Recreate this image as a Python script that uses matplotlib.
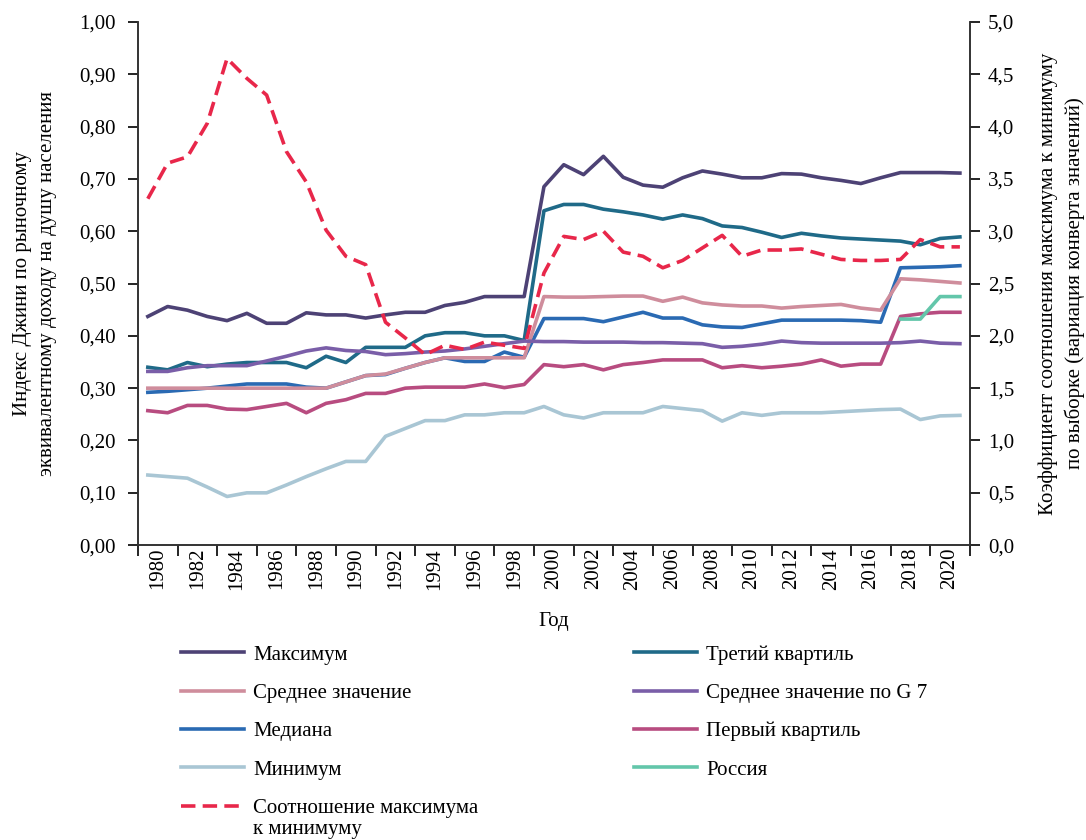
import numpy as np
import matplotlib
matplotlib.use('Agg')
import matplotlib.pyplot as plt

plt.rcParams['font.family'] = ['Liberation Serif', 'DejaVu Serif']

# Данные (индекс Джини, 1980-2021)
years = list(range(1980, 2022))
maximum = [0.437, 0.456, 0.449, 0.437, 0.429, 0.443, 0.424, 0.424, 0.444, 0.440,
           0.440, 0.434, 0.440, 0.445, 0.445, 0.458, 0.464, 0.475, 0.475, 0.475,
           0.685, 0.727, 0.708, 0.743, 0.703, 0.688, 0.684, 0.702, 0.715, 0.709,
           0.702, 0.702, 0.710, 0.709, 0.702, 0.697, 0.691, 0.702, 0.712, 0.712,
           0.712, 0.711]
q3 = [0.340, 0.335, 0.349, 0.341, 0.346, 0.349, 0.349, 0.349, 0.339, 0.361,
      0.349, 0.378, 0.378, 0.378, 0.400, 0.406, 0.406, 0.400, 0.400, 0.391,
      0.639, 0.651, 0.651, 0.642, 0.637, 0.631, 0.623, 0.631, 0.624, 0.610,
      0.607, 0.598, 0.588, 0.596, 0.591, 0.587, 0.585, 0.583, 0.581, 0.574,
      0.586, 0.589]
mean = [0.300, 0.300, 0.300, 0.300, 0.300, 0.300, 0.300, 0.300, 0.300, 0.300,
        0.312, 0.324, 0.327, 0.338, 0.349, 0.358, 0.358, 0.358, 0.358, 0.358,
        0.475, 0.474, 0.474, 0.475, 0.476, 0.476, 0.466, 0.474, 0.463, 0.459,
        0.457, 0.457, 0.453, 0.456, 0.458, 0.460, 0.453, 0.449, 0.509, 0.507,
        0.504, 0.501]
g7 = [0.332, 0.332, 0.339, 0.343, 0.343, 0.343, 0.352, 0.361, 0.371, 0.377,
      0.372, 0.370, 0.364, 0.366, 0.369, 0.371, 0.375, 0.380, 0.385, 0.390,
      0.389, 0.389, 0.388, 0.388, 0.388, 0.387, 0.387, 0.386, 0.385, 0.378,
      0.380, 0.384, 0.390, 0.387, 0.386, 0.386, 0.386, 0.386, 0.387, 0.390,
      0.386, 0.385]
median = [0.292, 0.294, 0.297, 0.300, 0.304, 0.308, 0.308, 0.308, 0.302, 0.300,
          0.312, 0.324, 0.326, 0.338, 0.349, 0.358, 0.351, 0.351, 0.369, 0.359,
          0.433, 0.433, 0.433, 0.427, 0.436, 0.445, 0.434, 0.434, 0.421, 0.417,
          0.416, 0.423, 0.430, 0.430, 0.430, 0.430, 0.429, 0.426, 0.530, 0.531,
          0.532, 0.534]
q1 = [0.257, 0.253, 0.267, 0.267, 0.260, 0.259, 0.265, 0.271, 0.253, 0.271,
      0.278, 0.290, 0.290, 0.300, 0.302, 0.302, 0.302, 0.308, 0.301, 0.307,
      0.345, 0.341, 0.345, 0.335, 0.345, 0.349, 0.354, 0.354, 0.354, 0.339,
      0.343, 0.339, 0.342, 0.346, 0.354, 0.342, 0.346, 0.346, 0.437, 0.442,
      0.445, 0.445]
minimum = [0.134, 0.131, 0.128, 0.111, 0.093, 0.100, 0.100, 0.115, 0.131, 0.146,
           0.160, 0.160, 0.208, 0.223, 0.238, 0.238, 0.249, 0.249, 0.253, 0.253,
           0.265, 0.249, 0.243, 0.253, 0.253, 0.253, 0.265, 0.261, 0.257, 0.237,
           0.253, 0.248, 0.253, 0.253, 0.253, 0.255, 0.257, 0.259, 0.260, 0.240,
           0.247, 0.248]
russia_years = [2018, 2019, 2020, 2021]
russia = [0.432, 0.432, 0.475, 0.475]
# Соотношение максимума к минимуму (правая ось)
ratio = [3.31, 3.65, 3.71, 4.03, 4.65, 4.46, 4.30, 3.76, 3.47, 3.01,
         2.76, 2.68, 2.13, 1.98, 1.82, 1.91, 1.87, 1.94, 1.91, 1.88,
         2.60, 2.95, 2.92, 3.00, 2.80, 2.76, 2.65, 2.72, 2.84, 2.96,
         2.76, 2.82, 2.82, 2.83, 2.78, 2.73, 2.72, 2.72, 2.73, 2.92,
         2.85, 2.85]

x = np.arange(len(years))
xr = np.array([years.index(y) for y in russia_years])
fs = 15

fig = plt.figure(figsize=(10.86, 8.4), dpi=100)
ax = fig.add_axes([0.127, 0.351, 0.766, 0.623])
lw = 2.6

l_min, = ax.plot(x, minimum, color='#a9c6d4', lw=lw)
l_q1, = ax.plot(x, q1, color='#b84c80', lw=lw)
l_med, = ax.plot(x, median, color='#2a6ab3', lw=lw)
l_mean, = ax.plot(x, mean, color='#cf8d9c', lw=lw)
l_q3, = ax.plot(x, q3, color='#1f6a88', lw=lw)
l_g7, = ax.plot(x, g7, color='#7a5ea8', lw=lw)
l_max, = ax.plot(x, maximum, color='#4d4275', lw=lw)
l_rus, = ax.plot(xr, russia, color='#63c6aa', lw=lw)

ax2 = ax.twinx()
l_ratio, = ax2.plot(x, ratio, color='#e8274a', lw=lw, ls=(0, (4, 2)))

ax.set_xlim(-0.5, len(years) - 0.5)
ax.set_ylim(0, 1)
ax2.set_ylim(0, 5)

yt = np.arange(0, 1.01, 0.1)
ax.set_yticks(yt)
ax.set_yticklabels([('%.2f' % v).replace('.', ',') for v in yt])
yt2 = np.arange(0, 5.01, 0.5)
ax2.set_yticks(yt2)
ax2.set_yticklabels([('%.1f' % v).replace('.', ',') for v in yt2])

ax.set_xticks(np.arange(-0.5, len(years), 2))
ax.set_xticklabels([])
ax.set_xticks(np.arange(0.5, len(years) - 1, 2), minor=True)
ax.set_xticklabels([str(y) for y in years[::2]], minor=True, rotation=90)
ax.tick_params(axis='x', which='major', direction='out', length=8, width=1.2)
ax.tick_params(axis='x', which='minor', length=0, labelsize=fs, pad=2)
ax.tick_params(axis='y', direction='out', length=7, width=1.2, labelsize=fs, pad=9)
ax2.tick_params(axis='y', direction='out', length=7, width=1.2, labelsize=fs, pad=6)

for a in (ax, ax2):
    a.spines['top'].set_visible(False)
    for s in ('left', 'right', 'bottom'):
        a.spines[s].set_linewidth(1.2)
        a.spines[s].set_color('#333333')

ax.set_ylabel('Индекс Джини по рыночному\nэквивалентному доходу на душу населения',
              fontsize=fs, linespacing=1.45)
ax.yaxis.set_label_coords(-0.097, 0.5)
ax2.set_ylabel('Коэффициент соотношения максимума к минимуму\nпо выборке (вариация конверта значений)',
               fontsize=fs, linespacing=1.45, rotation=90)
ax2.yaxis.set_label_coords(1.082, 0.5)
ax.set_xlabel('Год', fontsize=fs)
ax.xaxis.set_label_coords(0.5, -0.128)

leg_kw = dict(frameon=False, fontsize=fs, handlelength=3.0, handletextpad=0.45,
              borderpad=0, borderaxespad=0, labelspacing=0.9, loc='upper left')
leg1 = fig.legend([l_max, l_mean, l_med, l_min, l_ratio],
                  ['Максимум', 'Среднее значение', 'Медиана', 'Минимум',
                   'Соотношение максимума'],
                  bbox_to_anchor=(0.167, 0.232), **leg_kw)
leg2 = fig.legend([l_q3, l_g7, l_q1, l_rus],
                  ['Третий квартиль', 'Среднее значение по G 7', 'Первый квартиль', 'Россия'],
                  bbox_to_anchor=(0.584, 0.232), **leg_kw)

# вторая строка подписи последнего элемента легенды
fig.canvas.draw()
bb = leg1.get_texts()[-1].get_window_extent()
fig.text(bb.x0 / fig.bbox.width, (bb.y0 - 21) / fig.bbox.height, 'к минимуму',
         fontsize=fs, ha='left', va='bottom')

fig.savefig('out.png', dpi=100)
